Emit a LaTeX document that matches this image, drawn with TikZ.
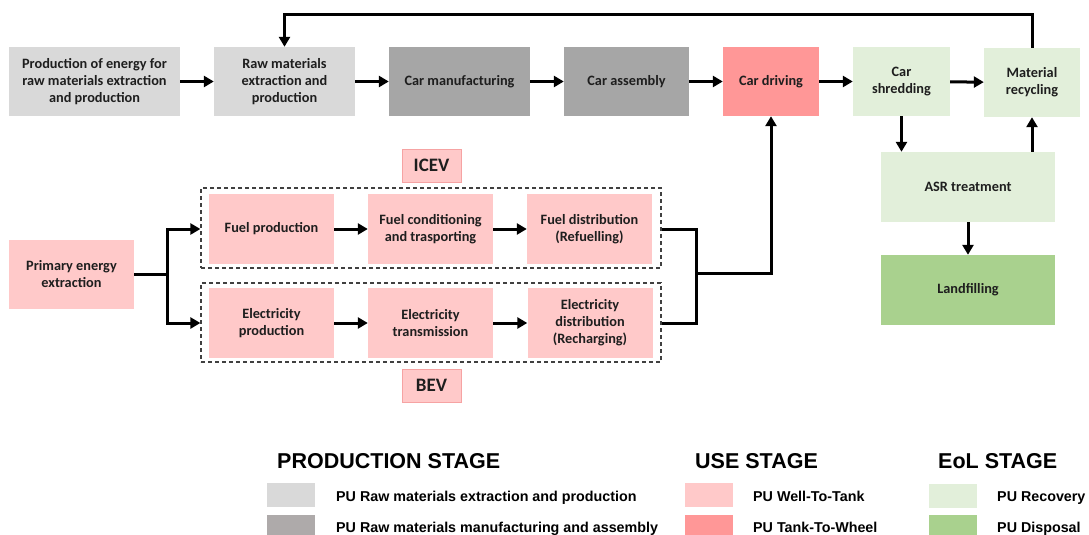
\documentclass[tikz,border=0pt]{standalone}
\usepackage{fontspec}
\setmainfont{Carlito}
\newfontfamily\legendfont{Liberation Sans}
\usetikzlibrary{arrows.meta}

\definecolor{rawgray}{HTML}{D9D9D9}
\definecolor{mfggray}{HTML}{A6A6A6}
\definecolor{mfglegend}{HTML}{AEAAAA}
\definecolor{wtt}{HTML}{FFC9C9}
\definecolor{wttedge}{HTML}{F6A3A3}
\definecolor{ttw}{HTML}{FF9797}
\definecolor{recov}{HTML}{E2EFDA}
\definecolor{disp}{HTML}{A9D18E}
\definecolor{txt}{HTML}{1E1E1E}

\begin{document}
\begin{tikzpicture}[x=1pt,y=-1pt,
  box/.style={draw=none, align=center, inner sep=2pt, text=txt,
    font=\bfseries\fontsize{14.3}{17}\selectfont},
  tag/.style={draw=wttedge, line width=1pt, fill=wtt, text=txt, inner sep=0pt,
    minimum width=59pt, minimum height=33pt, font=\bfseries\fontsize{19}{22}\selectfont},
  frame/.style={draw=black!75, line width=1.3pt, dash pattern=on 4pt off 3pt,
    inner sep=0pt},
  arr/.style={line width=3pt, -{Triangle[length=10pt,width=11pt]}},
  link/.style={line width=3pt},
  swatch/.style={draw=none, minimum width=48pt, minimum height=24pt, inner sep=0pt},
  head/.style={anchor=base west, inner sep=0pt, text=black,
    font=\legendfont\bfseries\fontsize{21.5}{24}\selectfont},
  legtext/.style={anchor=base west, inner sep=0pt, text=black,
    font=\legendfont\bfseries\fontsize{14.3}{16}\selectfont}
]
\useasboundingbox (0,0) rectangle (1089,535);

% production chain (top row)
\node[box, fill=rawgray, minimum width=171pt, minimum height=69pt] (pe) at (94.5,81.5)
  {Production of energy for\\raw materials extraction\\and production};
\node[box, fill=rawgray, minimum width=141pt, minimum height=69pt] (rm) at (284.5,81.5)
  {Raw materials\\extraction and\\production};
\node[box, fill=mfggray, minimum width=141pt, minimum height=69pt] (cm) at (459.5,81.5)
  {Car manufacturing};
\node[box, fill=mfggray, minimum width=125pt, minimum height=69pt] (ca) at (626.5,81.5)
  {Car assembly};
\node[box, fill=ttw, minimum width=96pt, minimum height=69pt] (cd) at (771,81.5)
  {Car driving};
\node[box, fill=recov, minimum width=97pt, minimum height=69pt] (cs) at (901.5,81.5)
  {Car\\shredding};
\node[box, fill=recov, minimum width=96pt, minimum height=69pt] (mr) at (1032,82.5)
  {Material\\recycling};

% end of life branch
\node[box, fill=recov, minimum width=174pt, minimum height=70pt] (asr) at (968,187)
  {ASR treatment};
\node[box, fill=disp, minimum width=174pt, minimum height=70pt] (lf) at (968,290)
  {Landfilling};

% energy pathways
\node[box, fill=wtt, minimum width=125pt, minimum height=69pt] (pee) at (71.5,274.5)
  {Primary energy\\extraction};

\node[frame, minimum width=460pt, minimum height=80pt] (icevf) at (431,228) {};
\node[frame, minimum width=460pt, minimum height=79pt] (bevf) at (431,322.5) {};

\node[box, fill=wtt, minimum width=125pt, minimum height=70pt] (fp) at (271.5,229)
  {Fuel production};
\node[box, fill=wtt, minimum width=125pt, minimum height=70pt] (fc) at (430.5,229)
  {Fuel conditioning\\and trasporting};
\node[box, fill=wtt, minimum width=125pt, minimum height=70pt] (fd) at (589.5,229)
  {Fuel distribution\\(Refuelling)};

\node[box, fill=wtt, minimum width=125pt, minimum height=70pt] (ep) at (271.5,323)
  {Electricity\\production};
\node[box, fill=wtt, minimum width=125pt, minimum height=70pt] (et) at (430.5,323)
  {Electricity\\transmission};
\node[box, fill=wtt, minimum width=125pt, minimum height=70pt] (ed) at (590,323)
  {Electricity\\distribution\\(Recharging)};

\node[tag] (icev) at (431.5,165.5) {ICEV};
\node[tag] (bev) at (431.5,385.5) {BEV};

% connectors
\draw[arr] (pe) -- (rm);
\draw[arr] (rm) -- (cm);
\draw[arr] (cm) -- (ca);
\draw[arr] (ca) -- (cd);
\draw[arr] (cd) -- (cs);
\draw[arr] (cs) -- (mr);

\coordinate (loop) at (0,15);
\draw[arr] (mr.north) -- (mr.north |- loop) -| (rm.north);

\draw[arr] (cs.south) -- (cs.south |- asr.north);
\draw[arr] (asr.north -| mr.south) -- (mr.south);
\draw[arr] (asr) -- (lf);

\coordinate (split) at (167,274.5);
\draw[link] (pee.east) -- (split);
\draw[arr] (split) |- (icevf.west |- fp.west);
\draw[arr] (split) |- (bevf.west |- ep.west);

\draw[arr] (fp) -- (fc);
\draw[arr] (fc) -- (fd);
\draw[arr] (ep) -- (et);
\draw[arr] (et) -- (ed);

\coordinate (merge) at (696,273);
\draw[link] (icevf.east |- fd.east) -| (merge);
\draw[link] (bevf.east |- ed.east) -| (merge);
\draw[arr] (merge) -| (cd.south);

% legend
\node[head] (hprod) at (277,468) {PRODUCTION STAGE};
\node[head] (huse) at (695,468) {USE STAGE};
\node[head] (heol) at (938,468) {EoL STAGE};

\node[swatch, fill=rawgray] (s1) at (291,495) {};
\node[swatch, fill=mfglegend] (s2) at (291,527) {};
\node[legtext] (t1) at (336,501) {PU Raw materials extraction and production};
\node[legtext] (t2) at (336,532) {PU Raw materials manufacturing and assembly};

\node[swatch, fill=wtt] (s3) at (709,495) {};
\node[swatch, fill=ttw] (s4) at (709,527) {};
\node[legtext] (t3) at (753,501) {PU Well-To-Tank};
\node[legtext] (t4) at (753,532) {PU Tank-To-Wheel};

\node[swatch, fill=recov] (s5) at (953,496) {};
\node[swatch, fill=disp] (s6) at (953,527) {};
\node[legtext] (t5) at (997,501) {PU Recovery};
\node[legtext] (t6) at (997,532) {PU Disposal};
\end{tikzpicture}
\end{document}
